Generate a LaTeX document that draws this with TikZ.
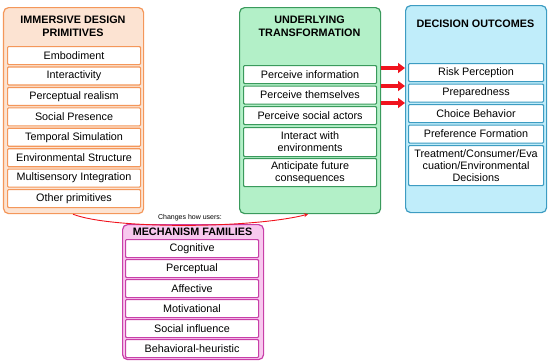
\documentclass[tikz,border=0pt]{standalone}
\usepackage{fontspec}
\setmainfont{Liberation Sans}
\usetikzlibrary{arrows.meta}
\definecolor{orB}{HTML}{F4975A}
\definecolor{orF}{HTML}{FCE3D2}
\definecolor{grB}{HTML}{3A9A5C}
\definecolor{grF}{HTML}{B3F0C8}
\definecolor{blB}{HTML}{3D9CC2}
\definecolor{blF}{HTML}{C0EDFA}
\definecolor{pkB}{HTML}{C83FA8}
\definecolor{pkF}{HTML}{F8C8EE}
\definecolor{arR}{HTML}{F0141E}
\tikzset{
  panel/.style={draw, rounded corners=5pt, line width=1.2pt},
  itembox/.style={draw, fill=white, line width=1.1pt, rounded corners=1pt, align=center,
    font=\fontsize{10.8}{12}\selectfont, inner sep=0pt},
  ttl/.style={font=\fontsize{10.8}{13}\selectfont\bfseries, align=center, inner sep=0pt},
  bigarrow/.style={draw=arR, line width=4.5pt, -{Triangle[length=7pt,width=10pt]}},
  thinarrow/.style={draw=arR, line width=0.9pt, -{Stealth[length=4pt,width=4pt]}},
}
\newcommand{\itm}[7]{% name, x1, y1, x2, y2, color, text
  \node[itembox, draw=#6, minimum width={#4-#2}, minimum height={#5-#3}, anchor=north west] (#1) at (#2,#3) {#7};}
\begin{document}
\begin{tikzpicture}[x=1pt,y=-1pt]
\useasboundingbox (0,0) rectangle (550,364);

% Orange panel
\node[panel, draw=orB, fill=orF, minimum width=140, minimum height=206, anchor=north west, inner sep=0pt] (obox) at (3,7) {};
\node[ttl] (otitle) at (73,26) {IMMERSIVE DESIGN\\PRIMITIVES};
\itm{p1}{7}{46}{140}{64}{orB}{Embodiment}
\itm{p2}{7}{66.4}{140}{84.4}{orB}{Interactivity}
\itm{p3}{7}{86.9}{140}{104.9}{orB}{Perceptual realism}
\itm{p4}{7}{107.3}{140}{125.3}{orB}{Social Presence}
\itm{p5}{7}{127.7}{140}{145.7}{orB}{Temporal Simulation}
\itm{p6}{7}{148.2}{140}{166.2}{orB}{Environmental Structure}
\itm{p7}{7}{168.6}{140}{186.6}{orB}{Multisensory Integration}
\itm{p8}{7}{189}{140}{207}{orB}{Other primitives}

% Green panel
\node[panel, draw=grB, fill=grF, minimum width=141, minimum height=206, anchor=north west, inner sep=0pt] (gbox) at (239,7) {};
\node[ttl] (gtitle) at (309.5,26) {UNDERLYING\\TRANSFORMATION};
\itm{t1}{243}{65}{376}{83}{grB}{Perceive information}
\itm{t2}{243}{85.5}{376}{103.5}{grB}{Perceive themselves}
\itm{t3}{243}{106}{376}{124}{grB}{Perceive social actors}
\itm{t4}{243}{127}{376}{156}{grB}{Interact with\\environments}
\itm{t5}{243}{158}{376}{186}{grB}{Anticipate future\\consequences}

% Blue panel
\node[panel, draw=blB, fill=blF, minimum width=141, minimum height=207, anchor=north west, inner sep=0pt] (bbox) at (405,5) {};
\node[ttl] (btitle) at (475.5,24) {DECISION OUTCOMES};
\itm{d1}{408}{63}{543}{81}{blB}{Risk Perception}
\itm{d2}{408}{83.5}{543}{101.5}{blB}{Preparedness}
\itm{d3}{408}{104}{543}{122}{blB}{Choice Behavior}
\itm{d4}{408}{124.5}{543}{142.5}{blB}{Preference Formation}
\itm{d5}{408}{145}{543}{185}{blB}{Treatment/Consumer/Eva\\cuation/Environmental\\Decisions}

% Pink panel
\node[panel, draw=pkB, fill=pkF, minimum width=141, minimum height=135, anchor=north west, inner sep=0pt] (mbox) at (122,224) {};
\node[ttl] (mtitle) at (192.5,232) {MECHANISM FAMILIES};
\itm{m1}{125}{239}{258}{257}{pkB}{Cognitive}
\itm{m2}{125}{259}{258}{277}{pkB}{Perceptual}
\itm{m3}{125}{279}{258}{297}{pkB}{Affective}
\itm{m4}{125}{299}{258}{317}{pkB}{Motivational}
\itm{m5}{125}{319}{258}{337}{pkB}{Social influence}
\itm{m6}{125}{339}{258}{357}{pkB}{Behavioral-heuristic}

% Label and curved connector
\node[font=\fontsize{7}{8}\selectfont, inner sep=0pt] (lbl) at (190,218) {Changes how users:};
\draw[thinarrow] (obox.south -| 73,0) .. controls (110,229) and (250,229) .. (gbox.south -| 308,0);

% Thick red arrows
\draw[bigarrow] (gbox.east |- 0,68) -- (bbox.west |- 0,68);
\draw[bigarrow] (gbox.east |- 0,86) -- (bbox.west |- 0,86);
\draw[bigarrow] (gbox.east |- 0,103) -- (bbox.west |- 0,103);
\end{tikzpicture}
\end{document}
